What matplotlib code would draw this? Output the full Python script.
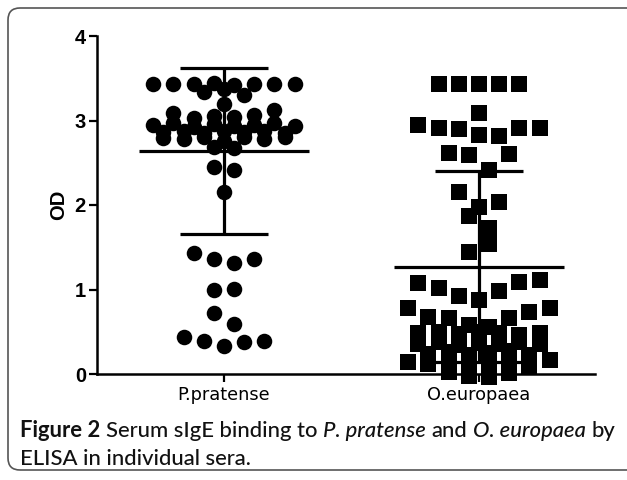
import matplotlib
matplotlib.use("Agg")
import matplotlib.pyplot as plt
from matplotlib.patches import FancyBboxPatch

# ---------------- data ----------------
categories = ["P.pratense", "O.europaea"]

# individual OD values, grouped in the horizontal rows of the dot plot (top to bottom)
pratense_rows = [
    [3.43, 3.43, 3.43, 3.44, 3.42, 3.43, 3.43, 3.43],
    [3.34, 3.37, 3.30],
    [3.19],
    [3.09, 3.03, 3.05, 3.04, 3.06, 3.12],
    [2.95, 2.97, 2.92, 2.96, 2.93, 2.95, 2.97, 2.94],
    [2.86, 2.88, 2.85, 2.87, 2.86, 2.88, 2.85],
    [2.79, 2.78, 2.80, 2.76, 2.81, 2.78, 2.80],
    [2.69, 2.67],
    [2.45, 2.42],
    [2.15],
    [1.43, 1.36, 1.31, 1.36],
    [1.00, 1.01],
    [0.72, 0.59],
    [0.44, 0.39, 0.33, 0.38, 0.39],
]
europaea_rows = [
    [3.43, 3.43, 3.43, 3.43, 3.43],
    [3.09],
    [2.95, 2.91, 2.90, 2.83, 2.82, 2.91, 2.91],
    [2.62, 2.59, 2.41, 2.60],
    [2.15, 1.98, 2.04],
    [1.87, 1.73],
    [1.44, 1.54],
    [1.08, 1.02, 0.92, 0.88, 0.98, 1.09, 1.11],
    [0.78, 0.67, 0.66, 0.58, 0.56, 0.66, 0.73, 0.78],
    [0.48, 0.50, 0.47, 0.50, 0.49, 0.46, 0.48],
    [0.36, 0.38, 0.34, 0.37, 0.35, 0.38, 0.36],
    [0.24, 0.26, 0.22, 0.25, 0.27, 0.23],
    [0.14, 0.12, 0.10, 0.13, 0.11, 0.12, 0.10, 0.16],
    [0.02, -0.02, -0.03, 0.01],
]
group_means = [2.64, 1.27]
group_sds = [0.98, 1.13]
y_ticks = [0, 1, 2, 3, 4]
y_label = "OD"

caption_line1 = [("Figure 2", "bold"), ("Serum sIgE binding to", "normal"),
                 ("P. pratense", "italic"), ("and", "normal"),
                 ("O. europaea", "italic"), ("by", "normal")]
caption_line2 = [("ELISA in individual sera.", "normal")]

# ---------------- figure ----------------
W, H, DPI = 6.27, 4.80, 100
fig = plt.figure(figsize=(W, H), dpi=DPI)
fig.patch.set_facecolor("white")

# rounded frame around the figure panel (right side runs off the image)
frame = FancyBboxPatch((0.08, 0.10), 7.0, 4.62,
                       boxstyle="round,pad=0,rounding_size=0.12",
                       transform=fig.dpi_scale_trans, facecolor="none",
                       edgecolor="#555555", linewidth=1.2, clip_on=False)
fig.patches.append(frame)

ax = fig.add_axes([97 / 627, 106 / 480, 498 / 627, 338 / 480])
xmin, xmax = -0.498, 1.455
ax.set_xlim(xmin, xmax)
ax.set_ylim(0, 4)

px_per_unit = 498 / (xmax - xmin)
step = 20.2 / px_per_unit

markers = ["o", "s"]
for gi, (rows, mk) in enumerate(zip([pratense_rows, europaea_rows], markers)):
    xs, ys = [], []
    for row in rows:
        k = len(row)
        for i, v in enumerate(row):
            xs.append(gi + (i - (k - 1) / 2) * step)
            ys.append(v)
    ax.scatter(xs, ys, marker=mk, s=125 if mk == "o" else 122, color="black",
               linewidths=0, clip_on=False, zorder=3)

mean_half = 85 / px_per_unit
cap_half = 44 / px_per_unit
for gi, (m, sd) in enumerate(zip(group_means, group_sds)):
    ax.hlines(m, gi - mean_half, gi + mean_half, color="black", lw=2.3, zorder=4)
    ax.vlines(gi, m - sd, m + sd, color="black", lw=2.3, zorder=4)
    ax.hlines([m - sd, m + sd], gi - cap_half, gi + cap_half, color="black",
              lw=2.3, zorder=4)

for s in ["top", "right"]:
    ax.spines[s].set_visible(False)
for s in ["left", "bottom"]:
    ax.spines[s].set_linewidth(1.8)

ax.set_yticks(y_ticks)
ax.set_yticklabels([str(t) for t in y_ticks], fontsize=14.5, fontweight="bold",
                   family="Liberation Sans")
ax.set_xticks(range(len(categories)))
ax.set_xticklabels(categories, fontsize=12.8, family="DejaVu Sans")
ax.tick_params(axis="y", length=6, width=1.6, pad=2)
ax.tick_params(axis="x", length=6, width=1.6, pad=3)
ax.set_ylabel(y_label, fontsize=14.5, fontweight="bold", family="Liberation Sans",
              labelpad=5)

# ---------------- caption ----------------
renderer = fig.canvas.get_renderer()
cap_font = "Lato"
cap_size = 15.8
cap_color = "#111111"


def space_width(weight, style):
    a = fig.text(0, 0, "xx", fontsize=cap_size, family=cap_font,
                 fontweight=weight, fontstyle=style)
    b = fig.text(0, 0, "x x", fontsize=cap_size, family=cap_font,
                 fontweight=weight, fontstyle=style)
    w = b.get_window_extent(renderer).width - a.get_window_extent(renderer).width
    a.remove(); b.remove()
    return w


def draw_line(pieces, x0_px, baseline_px):
    x = x0_px
    for txt, kind in pieces:
        weight = "bold" if kind == "bold" else "medium"
        style = "italic" if kind == "italic" else "normal"
        t = fig.text(x / (W * DPI), (H * DPI - baseline_px) / (H * DPI), txt,
                     fontsize=cap_size, family=cap_font, fontweight=weight,
                     fontstyle=style, color=cap_color, va="baseline", ha="left")
        bb = t.get_window_extent(renderer)
        x = bb.x1 + space_width("normal", "normal")


draw_line(caption_line1, 20, 437)
draw_line(caption_line2, 20, 465)

fig.savefig("out.png", dpi=DPI)
